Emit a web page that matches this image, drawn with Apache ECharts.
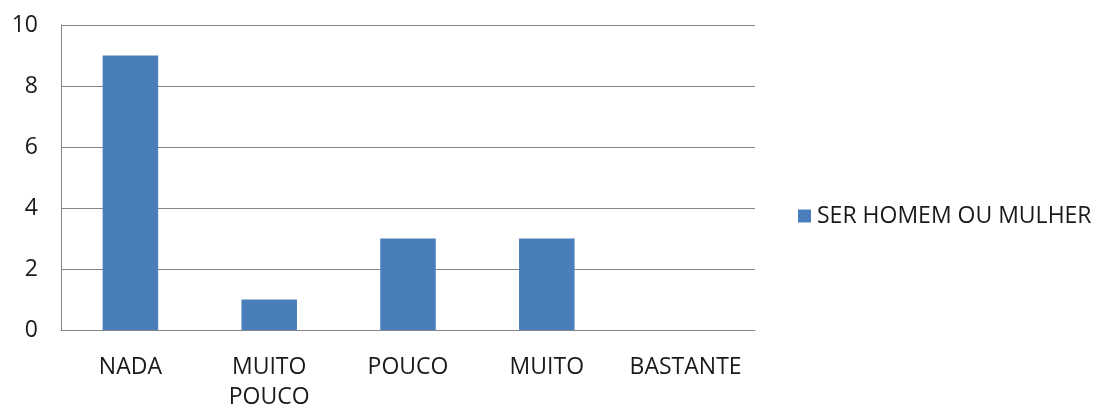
<!DOCTYPE html>
<html>
<head>
<meta charset="utf-8">
<script src="https://cdn.jsdelivr.net/npm/echarts@6/dist/echarts.min.js"></script>
<style>
  html, body { margin: 0; padding: 0; background: #fff; overflow: hidden; }
  #chart { width: 1101px; height: 412px; }
</style>
</head>
<body>
<div id="chart"></div>
<script>
// Categories along the x axis
const categories = ['NADA', 'MUITO\nPOUCO', 'POUCO', 'MUITO', 'BASTANTE'];
// Counts for the single series
const seriesName = 'SER HOMEM OU MULHER';
const values = [9, 1, 3, 3, 0];
// Value axis range
const yMin = 0, yMax = 10, yStep = 2;

const textColor = '#1a1a1a';
const fontFamily = '"Open Sans", "Noto Sans", sans-serif';
const fontSize = 23;

const chart = echarts.init(document.getElementById('chart'), null, { renderer: 'canvas' });
chart.setOption({
  animation: false,
  backgroundColor: '#ffffff',
  grid: { left: 61, top: 25, width: 694, height: 310, containLabel: false },
  legend: {
    data: [seriesName],
    orient: 'vertical',
    left: 798,
    top: 204,
    padding: 0,
    icon: 'rect',
    itemWidth: 13,
    itemHeight: 13,
    textStyle: { color: textColor, fontSize: fontSize, fontFamily: fontFamily, lineHeight: 24, padding: [0, 0, 0, 1] }
  },
  xAxis: {
    type: 'category',
    data: categories,
    axisLine: { show: true, lineStyle: { color: '#868686', width: 1 } },
    axisTick: { show: false },
    axisLabel: {
      color: textColor, fontSize: fontSize, fontFamily: fontFamily,
      margin: 22, lineHeight: 30, interval: 0
    }
  },
  yAxis: {
    type: 'value',
    min: yMin, max: yMax, interval: yStep,
    axisLine: { show: true, lineStyle: { color: '#868686', width: 1 } },
    axisTick: { show: false },
    splitLine: { show: true, lineStyle: { color: '#868686', width: 1 } },
    axisLabel: { color: textColor, fontSize: fontSize, fontFamily: fontFamily, margin: 23 }
  },
  series: [{
    name: seriesName,
    type: 'bar',
    data: values,
    barWidth: '40%',
    itemStyle: { color: '#4a7ebb' }
  }]
});
</script>
</body>
</html>
